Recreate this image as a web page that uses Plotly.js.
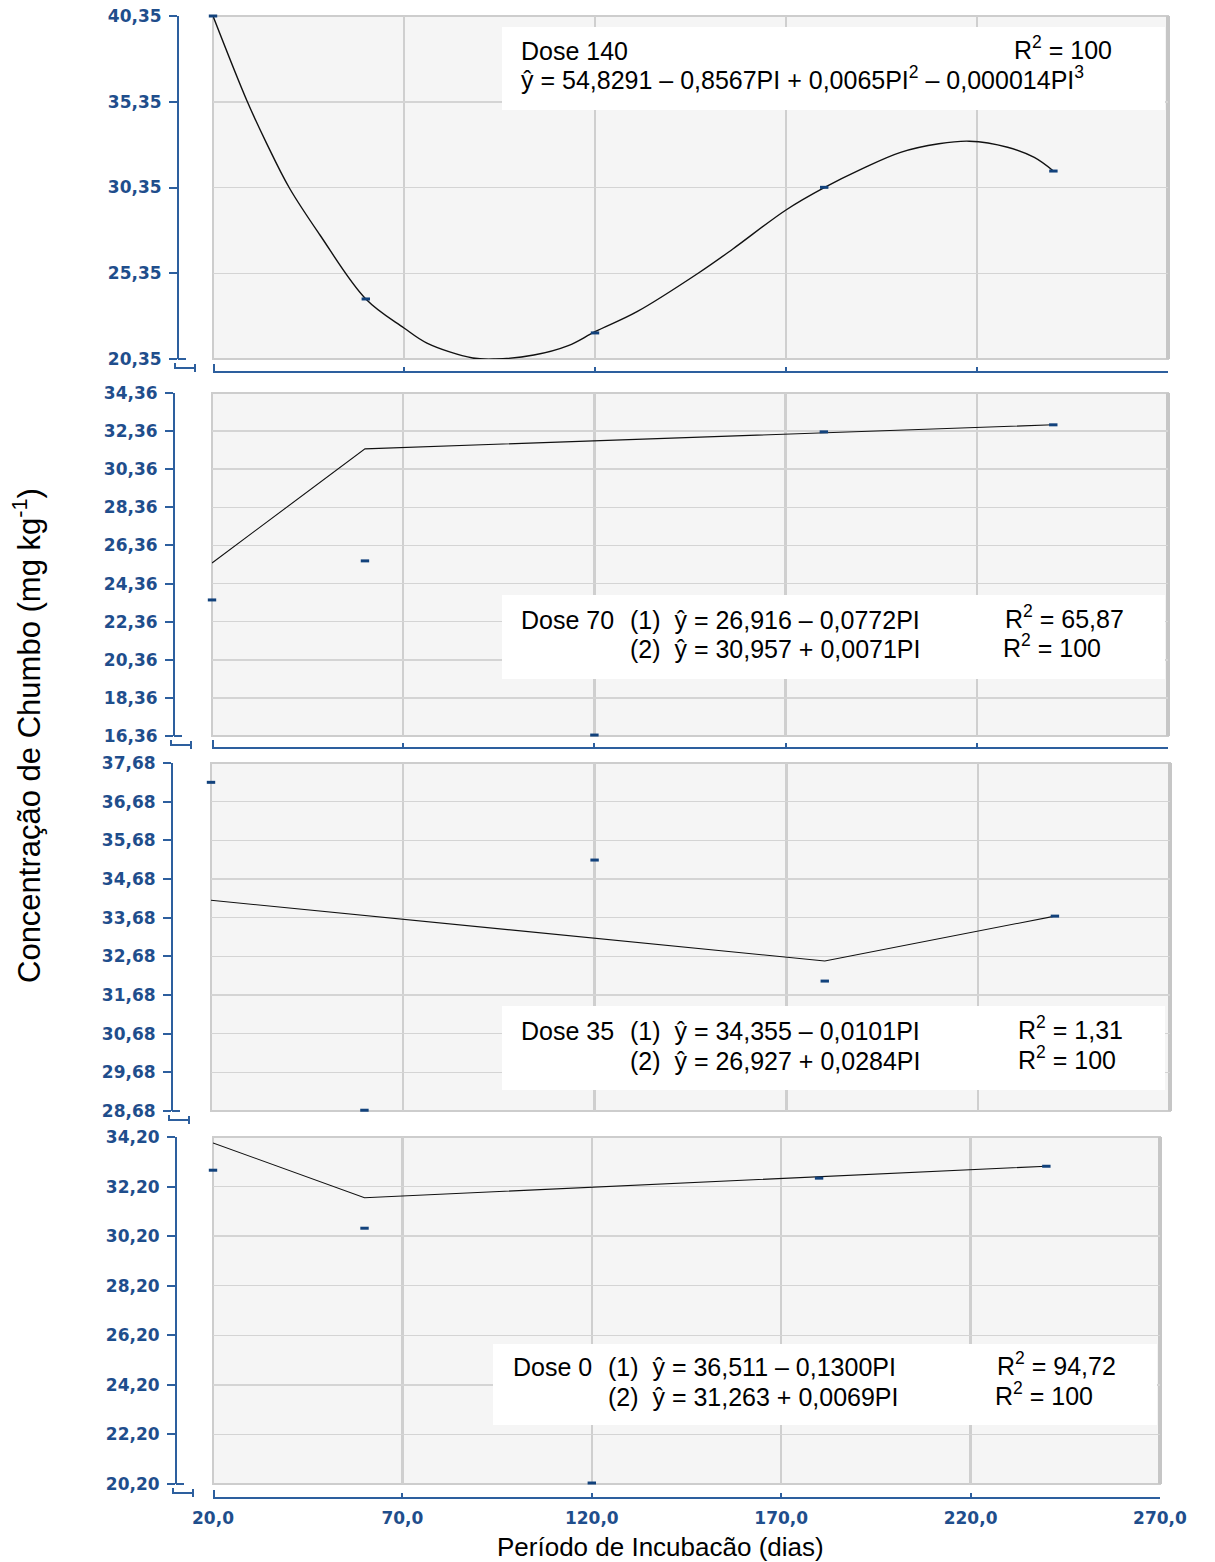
<!DOCTYPE html>
<html>
<head>
<meta charset="utf-8">
<script src="https://cdn.plot.ly/plotly-3.0.1.min.js"></script>
<style>html,body{margin:0;padding:0;background:#fff;}#chart{width:1215px;height:1562px;}</style>
</head>
<body>
<div id="chart"></div>
<script>
// ---------- data ----------
const periods = [20, 60, 120, 180, 240];
const xTicks = [20, 70, 120, 170, 220, 270];

const obs140 = [40.35, 23.85, 21.87, 30.36, 31.31];
const fitX140 = [20, 29, 34, 40, 48, 60, 70, 76, 88, 94, 104, 113, 120, 131, 147, 156, 170, 180, 190, 200, 210, 218, 228, 235, 240];
const fitY140 = [40.35, 35.35, 32.94, 30.32, 27.58, 23.85, 22.16, 21.28, 20.41, 20.35, 20.58, 21.13, 21.94, 23.11, 25.35, 26.75, 29.04, 30.34, 31.45, 32.40, 32.90, 33.05, 32.70, 32.10, 31.31];
const ticks140 = [20.35, 25.35, 30.35, 35.35, 40.35];

const obs70 = [23.50, 25.55, 16.41, 32.32, 32.69];
const fitX70 = [20, 60, 240];
const fitY70 = [25.44, 31.43, 32.69];
const ticks70 = [16.36, 18.36, 20.36, 22.36, 24.36, 26.36, 28.36, 30.36, 32.36, 34.36];

const obs35 = [37.18, 28.70, 35.17, 32.04, 33.72];
const fitX35 = [20, 180, 240];
const fitY35 = [34.13, 32.56, 33.72];
const ticks35 = [28.68, 29.68, 30.68, 31.68, 32.68, 33.68, 34.68, 35.68, 36.68, 37.68];

const obs0 = [32.86, 30.52, 20.24, 32.54, 33.02];
const fitX0 = [20, 60, 240];
const fitY0 = [33.96, 31.75, 33.02];
const ticks0 = [20.20, 22.20, 24.20, 26.20, 28.20, 30.20, 32.20, 34.20];

const yTitle = 'Concentração de Chumbo (mg kg<sup>-1</sup>)';
const xTitle = 'Período de Incubacão (dias)';
const NB = '\u00a0';
const eqTexts = {
  d140: ['Dose 140', 'R<sup>2</sup> = 100', 'ŷ = 54,8291 – 0,8567PI + 0,0065PI<sup>2</sup> – 0,000014PI<sup>3</sup>'],
  d70: ['Dose 70', '(1)' + NB + NB + 'ŷ = 26,916 – 0,0772PI', 'R<sup>2</sup> = 65,87', '(2)' + NB + NB + 'ŷ = 30,957 + 0,0071PI', 'R<sup>2</sup> = 100'],
  d35: ['Dose 35', '(1)' + NB + NB + 'ŷ = 34,355 – 0,0101PI', 'R<sup>2</sup> = 1,31', '(2)' + NB + NB + 'ŷ = 26,927 + 0,0284PI', 'R<sup>2</sup> = 100'],
  d0: ['Dose 0', '(1)' + NB + NB + 'ŷ = 36,511 – 0,1300PI', 'R<sup>2</sup> = 94,72', '(2)' + NB + NB + 'ŷ = 31,263 + 0,0069PI', 'R<sup>2</sup> = 100']
};

// ---------- layout helpers ----------
const W = 1215, H = 1562;
const fx = p => p / W;
const fy = p => 1 - p / H;

const BLUE = '#1f4e8c';
const AXBLUE = '#2d5f9e';
const MARK = '#12427c';
const tickFont = {family: 'Verdana, "DejaVu Sans", sans-serif', size: 17, color: BLUE, weight: 'bold'};
const txtFont = {family: 'Arial, "Liberation Sans", sans-serif', size: 25, color: '#000'};

const panels = [
  {obs: obs140, fx_: fitX140, fy_: fitY140, ticks: ticks140, ytop: 16, ybot: 359, xl: 213, xr: 1168, yax: 178, xline: 372, spline: true},
  {obs: obs70, fx_: fitX70, fy_: fitY70, ticks: ticks70, ytop: 393, ybot: 736, xl: 212, xr: 1168, yax: 174, xline: 748},
  {obs: obs35, fx_: fitX35, fy_: fitY35, ticks: ticks35, ytop: 763, ybot: 1111, xl: 211, xr: 1170, yax: 172, xline: 1120, noXLine: true},
  {obs: obs0, fx_: fitX0, fy_: fitY0, ticks: ticks0, ytop: 1137, ybot: 1484, xl: 213, xr: 1160, yax: 176, xline: 1498, labels: true}
];

const traces = [];
const layout = {
  width: W, height: H,
  margin: {l: 0, r: 0, t: 0, b: 0},
  paper_bgcolor: '#ffffff',
  plot_bgcolor: '#f5f5f5',
  separators: ',.',
  showlegend: false,
  shapes: [],
  annotations: []
};

panels.forEach((p, i) => {
  const n = i + 1;
  const xa = 'xaxis' + (n === 1 ? '' : n);
  const ya = 'yaxis' + (n === 1 ? '' : n);
  const xr = 'x' + (n === 1 ? '' : n);
  const yr = 'y' + (n === 1 ? '' : n);

  traces.push({
    x: p.fx_, y: p.fy_, xaxis: xr, yaxis: yr, type: 'scatter', mode: 'lines',
    line: {color: '#111', width: p.spline ? 1.4 : 1.1, shape: p.spline ? 'spline' : 'linear', smoothing: 1},
    hoverinfo: 'skip'
  });
  traces.push({
    x: periods, y: p.obs, xaxis: xr, yaxis: yr, type: 'scatter', mode: 'markers',
    marker: {symbol: 'line-ew', size: 6, color: MARK, line: {color: MARK, width: 3}},
    cliponaxis: false
  });

  layout[xa] = {
    domain: [fx(p.xl), fx(p.xr)],
    range: [20, 270],
    anchor: 'free',
    position: fy(p.xline),
    tickvals: xTicks,
    tickformat: '.1f',
    showticklabels: !!p.labels,
    tickfont: tickFont,
    ticks: p.noXLine ? '' : 'inside',
    ticklen: 4,
    tickwidth: 2,
    tickcolor: AXBLUE,
    showline: !p.noXLine,
    linecolor: AXBLUE,
    linewidth: 2,
    showgrid: true,
    gridcolor: '#cfcfcf',
    gridwidth: 2.5,
    zeroline: false,
    ticklabelstandoff: 5
  };
  layout[ya] = {
    domain: [fy(p.ybot), fy(p.ytop)],
    range: [p.ticks[0], p.ticks[p.ticks.length - 1]],
    anchor: 'free',
    position: fx(p.yax),
    tickvals: p.ticks,
    tickformat: '.2f',
    tickfont: tickFont,
    ticks: 'outside',
    ticklen: 8,
    tickwidth: 2,
    tickcolor: AXBLUE,
    showline: true,
    linecolor: AXBLUE,
    linewidth: 2,
    showgrid: true,
    gridcolor: '#d4d4d4',
    gridwidth: 1.5,
    zeroline: false,
    ticklabelstandoff: 4
  };

  // panel border
  layout.shapes.push({type: 'rect', xref: xr + ' domain', yref: yr + ' domain', x0: 0, x1: 1, y0: 0, y1: 1,
    line: {color: '#cdcdcd', width: 2}, fillcolor: 'rgba(0,0,0,0)', layer: 'below'});
  layout.shapes.push({type: 'line', xref: xr + ' domain', yref: yr + ' domain', x0: 1, x1: 1, y0: 0, y1: 1,
    line: {color: '#c6c6c6', width: 4}, layer: 'below'});

  // axis-break decoration
  const a = p.yax, b = p.ybot;
  layout.shapes.push({type: 'path', xref: 'paper', yref: 'paper', layer: 'above',
    path: `M ${fx(a)},${fy(b)} L ${fx(a + 8)},${fy(b)} M ${fx(a - 3)},${fy(b + 4)} L ${fx(a - 3)},${fy(b + 9)} L ${fx(a + 17)},${fy(b + 9)} M ${fx(a + 17)},${fy(b + 5)} L ${fx(a + 17)},${fy(b + 13)}`,
    line: {color: AXBLUE, width: 2}});
  if (!p.noXLine) {
    layout.shapes.push({type: 'line', xref: 'paper', yref: 'paper', layer: 'above',
      x0: fx(p.xl + 1), x1: fx(p.xl + 1), y0: fy(p.xline - 8), y1: fy(p.xline + 1),
      line: {color: AXBLUE, width: 2}});
  }
});

// white equation boxes
const boxes = [[502, 27, 1165, 110], [502, 595, 1165, 679], [502, 1006, 1165, 1090], [493, 1344, 1157, 1425]];
boxes.forEach(bx => layout.shapes.push({type: 'rect', xref: 'paper', yref: 'paper', layer: 'above',
  x0: fx(bx[0]), x1: fx(bx[2]), y0: fy(bx[3]), y1: fy(bx[1]), fillcolor: '#ffffff', line: {width: 0}}));

function txt(text, x, y) {
  layout.annotations.push({text: text, xref: 'paper', yref: 'paper', x: fx(x), y: fy(y),
    xanchor: 'left', yanchor: 'middle', showarrow: false, font: txtFont});
}
txt(eqTexts.d140[0], 519, 51); txt(eqTexts.d140[1], 1012, 48); txt(eqTexts.d140[2], 519, 78);
txt(eqTexts.d70[0], 519, 620); txt(eqTexts.d70[1], 628, 620); txt(eqTexts.d70[2], 1003, 617); txt(eqTexts.d70[3], 628, 649); txt(eqTexts.d70[4], 1001, 646);
txt(eqTexts.d35[0], 519, 1031); txt(eqTexts.d35[1], 628, 1031); txt(eqTexts.d35[2], 1016, 1028); txt(eqTexts.d35[3], 628, 1061); txt(eqTexts.d35[4], 1016, 1058);
txt(eqTexts.d0[0], 511, 1367); txt(eqTexts.d0[1], 606, 1367); txt(eqTexts.d0[2], 995, 1364); txt(eqTexts.d0[3], 606, 1397); txt(eqTexts.d0[4], 993, 1394);

// axis titles
layout.annotations.push({text: yTitle, xref: 'paper', yref: 'paper', x: fx(27), y: fy(736), textangle: -90,
  xanchor: 'center', yanchor: 'middle', showarrow: false,
  font: {family: 'Arial, "Liberation Sans", sans-serif', size: 31, color: '#000'}});
layout.annotations.push({text: xTitle, xref: 'paper', yref: 'paper', x: fx(660), y: fy(1547),
  xanchor: 'center', yanchor: 'middle', showarrow: false,
  font: {family: 'Arial, "Liberation Sans", sans-serif', size: 26, color: '#000'}});

Plotly.newPlot('chart', traces, layout, {displayModeBar: false, staticPlot: true});
</script>
</body>
</html>
